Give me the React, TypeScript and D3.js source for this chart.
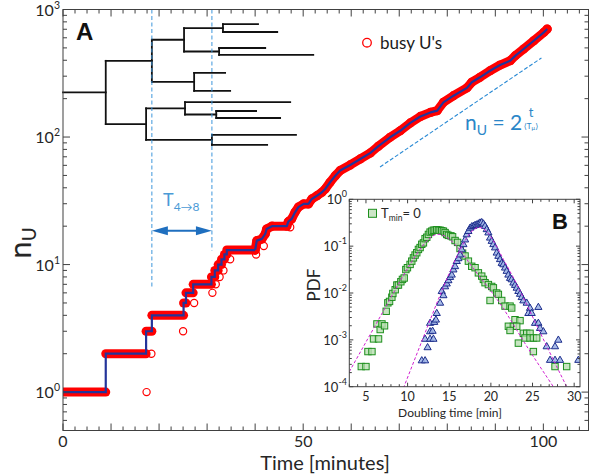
import React from 'react';
import * as d3 from 'd3';

const W = 592;
const H = 475;
const FONT = "Lato, 'Open Sans', 'DejaVu Sans', sans-serif";
const BOLD = "'Liberation Sans', Arial, sans-serif";

// ---------- Panel A: number of busy U's vs time ----------
const stepTimes = [0, 8.9, 17.3, 18.5, 25.1, 25.6, 27.1, 30.9, 31.6, 32.3, 33.0, 33.6, 34.1, 40.0];
const stepCounts = [1, 2, 3, 4, 5, 6, 7, 8, 9, 10, 11, 12, 13, 13];
const growthTimes = [40.0, 40.35, 41.4, 42.1, 42.4, 43.5, 46.6, 46.9, 47.6, 48.3, 49.0, 50.1, 51.1, 51.8, 52.9, 53.9, 54.6, 55.6, 56.7, 57.7, 59.8, 61.9, 64.0, 65.6, 68.1, 70.2, 72.3, 74.4, 76.5, 77.9, 79.2, 81.3, 84.1, 85.1, 86.8, 88.9, 91.0, 93.1, 94.2, 95.9, 98.0, 100.1, 100.8];
const growthCounts = [13, 15.4, 15.9, 17.4, 19.0, 20.0, 20.0, 21.7, 22.8, 25.7, 28.2, 29.9, 29.9, 32.7, 34.7, 36.9, 39.2, 44.2, 49.8, 54.6, 60.4, 67.3, 75.1, 84.4, 99.6, 112, 129, 145, 156, 161, 187, 211, 243, 269, 294, 331, 367, 397, 435, 490, 569, 662, 703];
const outlierTimes = [17.4, 18.4, 25.0, 27.3, 31.1, 31.8, 32.6, 33.4, 34.8, 40.2, 41.8, 47.3];
const outlierCounts = [1, 2, 3, 5, 6, 7, 8, 9, 11, 12, 14, 19.6];

// lineage tree: division times (min) and leaf positions (in n_U units)
type TNode = { t: number; n?: number; children?: TNode[] };
const lineageTree: TNode = {
  t: 8.9, children: [
    { t: 18.5, children: [
      { t: 25.2, children: [
        { t: 33.3, children: [{ t: 40.6, n: 769 }, { t: 44.6, n: 666 }] },
        { t: 32.5, children: [{ t: 42.1, n: 499 }, { t: 52.1, n: 440 }] },
      ] },
      { t: 27.3, children: [{ t: 33.75, n: 318 }, { t: 34.8, n: 230 }] },
    ] },
    { t: 17.3, children: [
      { t: 25.4, children: [
        { t: 47.3, n: 188 },
        { t: 31.9, children: [{ t: 40.2, n: 160 }, { t: 45.2, n: 141 }] },
      ] },
      { t: 31.0, children: [{ t: 48.5, n: 104 }, { t: 42.5, n: 86.7 }] },
    ] },
  ],
};

const t4Time = 18.5;
const t8Time = 31.0;
const t4LineEnd = 6.5;
const t8LineEnd = 12.9;
const arrowLevel = 18.4;
const refTimes = [66.0, 99.6];
const refCounts = [58.3, 417];

const xLabelTicks = [0, 50, 100];
const yDecades = [0, 1, 2, 3];

// ---------- Panel B: doubling-time PDFs ----------
const greenT = [4.44, 5.0, 5.24, 5.72, 5.91, 6.51, 6.32, 6.71, 6.92, 7.23, 7.43, 7.63, 7.83, 8.11, 8.23, 8.51, 8.71, 8.9, 9.19, 9.38, 9.59, 9.79, 9.98, 10.3, 10.5, 10.7, 10.9, 11.1, 11.3, 11.5, 11.7, 11.9, 12.1, 12.3, 12.5, 12.7, 12.9, 13.1, 13.3, 13.5, 13.7, 13.9, 14.1, 14.3, 14.5, 14.7, 14.9, 15.2, 15.4, 15.7, 16.0, 16.3, 16.6, 16.9, 17.3, 17.7, 18.1, 18.5, 18.9, 19.1, 19.3, 19.7, 20.1, 20.3, 19.9, 20.7, 20.9, 21.3, 21.7, 22.3, 22.5, 22.1, 22.7, 22.3, 22.9, 23.5, 23.1, 23.9, 24.3, 24.7, 23.3, 24.1, 24.7, 25.1, 25.5, 25.1, 27.7, 29.1];
const greenLogPdf = [-3.57, -3.57, -3.25, -3.25, -2.98, -2.98, -2.66, -2.78, -2.66, -2.7, -2.39, -2.21, -2.18, -2.09, -2.01, -1.93, -1.83, -1.83, -1.76, -1.71, -1.68, -1.5, -1.46, -1.39, -1.32, -1.25, -1.19, -1.14, -1.07, -1.03, -0.96, -0.93, -0.84, -0.81, -0.75, -0.7, -0.68, -0.66, -0.66, -0.65, -0.66, -0.66, -0.67, -0.68, -0.71, -0.75, -0.77, -0.78, -0.8, -0.88, -0.92, -1.05, -1.15, -1.21, -1.32, -1.43, -1.46, -1.57, -1.64, -1.71, -1.78, -1.82, -1.86, -1.89, -2.16, -2.0, -2.03, -2.16, -2.28, -2.28, -2.32, -2.71, -2.71, -2.8, -2.57, -2.59, -2.71, -2.86, -2.86, -2.86, -3.07, -2.96, -2.96, -2.96, -2.96, -3.25, -3.57, -3.57];
const blueT = [11.7, 12.1, 12.4, 12.1, 12.7, 13.1, 12.7, 13.0, 12.7, 13.2, 13.4, 13.5, 13.9, 14.1, 14.3, 14.5, 14.7, 14.9, 15.1, 15.3, 15.5, 15.7, 15.9, 16.1, 16.3, 16.5, 16.7, 16.9, 17.1, 17.3, 17.5, 17.7, 17.9, 18.1, 18.3, 18.5, 18.7, 18.9, 19.1, 19.3, 19.5, 19.7, 19.9, 20.1, 20.3, 20.5, 20.7, 20.9, 21.1, 21.3, 21.5, 21.7, 21.9, 22.1, 22.3, 22.5, 22.7, 22.9, 23.1, 23.3, 23.5, 23.7, 23.9, 24.3, 24.7, 24.5, 24.9, 25.7, 25.3, 25.7, 25.9, 26.3, 28.1, 26.7, 27.7, 27.1, 27.7, 28.3, 30.5];
const blueLogPdf = [-3.44, -3.44, -3.16, -2.98, -2.98, -2.98, -2.82, -2.81, -2.64, -2.62, -2.57, -2.43, -2.21, -1.96, -2.05, -1.86, -1.8, -1.73, -1.66, -1.61, -1.5, -1.43, -1.32, -1.26, -1.18, -1.07, -0.96, -0.86, -0.75, -0.68, -0.61, -0.58, -0.57, -0.55, -0.54, -0.52, -0.5, -0.49, -0.52, -0.57, -0.64, -0.71, -0.82, -0.89, -0.96, -1.03, -1.14, -1.21, -1.28, -1.36, -1.39, -1.46, -1.53, -1.61, -1.68, -1.71, -1.78, -1.83, -1.89, -1.96, -2.02, -2.09, -2.16, -2.21, -2.32, -2.43, -2.43, -2.3, -2.64, -2.64, -2.75, -2.82, -3.0, -3.14, -3.14, -3.43, -3.43, -3.43, -3.43];
const greenFitT = [3.0, 6, 9, 10.5, 12, 13.5, 15, 16.5, 18, 21, 24, 27.5, 29];
const greenFitLog = [-3.68, -2.73, -1.78, -1.33, -0.95, -0.75, -0.85, -1.13, -1.5, -2.2, -3.05, -4.0, -4.4];
const blueFitT = [9.5, 11, 12.5, 14, 15.5, 17, 18.5, 20, 21.5, 23.3, 26.2, 29.1, 30.5];
const blueFitLog = [-4.03, -3.35, -2.67, -2.0, -1.38, -0.85, -0.6, -0.8, -1.28, -1.88, -2.95, -4.0, -4.5];
const insetXLabels = [5, 10, 15, 20, 25, 30];
const insetDecades = [-4, -3, -2, -1, 0];

const AX = '#404040';
const TXT = '#262626';
const RED = '#ff0000';
const NAVY = '#24349a';
const LBLUE = '#3d96dc';
const ABLUE = '#1f6fbf';

export default function App() {
  const x = d3.scaleLinear().domain([0, 109.4]).range([63, 588.5]);
  const y = d3.scaleLog().domain([0.5, 1000]).range([430.5, 9.5]);
  const [x0, x1] = x.range();
  const [yb, yt] = y.range();

  const ix = d3.scaleLinear().domain([3, 30.7]).range([349.3, 580]);
  const iy = d3.scaleLog().domain([1e-4, 1]).range([386.7, 199.3]);
  const [ix0, ix1] = ix.range();
  const [iyb, iyt] = iy.range();

  // tree segments
  const segs: { x1: number; x2: number; y1: number; y2: number }[] = [];
  const layout = (node: TNode, parentT: number): number => {
    if (!node.children) {
      const py = y(node.n as number);
      segs.push({ x1: x(parentT), x2: x(node.t), y1: py, y2: py });
      return py;
    }
    const ys = node.children.map((c) => layout(c, node.t));
    const py = d3.mean(ys) as number;
    segs.push({ x1: x(node.t), x2: x(node.t), y1: d3.min(ys) as number, y2: d3.max(ys) as number });
    segs.push({ x1: x(parentT), x2: x(node.t), y1: py, y2: py });
    return py;
  };
  layout(lineageTree, 0);

  const stepPts = stepTimes.map((t, i) => [t, stepCounts[i]] as [number, number]);
  const growPts = growthTimes.map((t, i) => [t, growthCounts[i]] as [number, number]);
  const stepLine = d3.line<[number, number]>().x((d) => x(d[0])).y((d) => y(d[1])).curve(d3.curveStepAfter);
  const lin = d3.line<[number, number]>().x((d) => x(d[0])).y((d) => y(d[1]));

  // ticks
  const xTicks = d3.range(0, 109.4, 2.5);
  const yTicks: { v: number; major: boolean }[] = [];
  for (let e = -1; e <= 3; e++) for (let k = 1; k <= 9; k++) {
    const v = k * Math.pow(10, e);
    if (v >= 0.5 && v <= 1000) yTicks.push({ v, major: k === 1 });
  }
  const ixTicks = d3.range(3, 31, 1);
  const iyTicks: { v: number; major: boolean }[] = [];
  for (let e = -4; e <= 0; e++) for (let k = 1; k <= 9; k++) {
    const v = k * Math.pow(10, e);
    if (v >= 1e-4 && v <= 1) iyTicks.push({ v, major: k === 1 });
  }

  const fitLine = d3.line<[number, number]>().x((d) => ix(d[0])).y((d) => iy(Math.pow(10, d[1]))).curve(d3.curveNatural);
  const greenFit = greenFitT.map((t, i) => [t, greenFitLog[i]] as [number, number]);
  const blueFit = blueFitT.map((t, i) => [t, blueFitLog[i]] as [number, number]);

  const ah = 16, aw = 4.5;
  const ay = y(arrowLevel);
  const ax1 = x(t4Time), ax2 = x(t8Time);

  const tri = (cx: number, cy: number) => {
    const s = 7.2;
    const h = s * 0.866;
    return `M${cx},${cy - h * 0.62}L${cx + s / 2},${cy + h * 0.38}L${cx - s / 2},${cy + h * 0.38}Z`;
  };

  return (
    <svg width={W} height={H} style={{ position: 'absolute', left: 0, top: 0, background: '#fff' }} fontFamily={FONT}>
      <rect x={0} y={0} width={W} height={H} fill="#fff" />
      <defs>
        <clipPath id="mainclip"><rect x={x0} y={yt} width={x1 - x0} height={yb - yt} /></clipPath>
        <clipPath id="insetclip"><rect x={ix0} y={iyt} width={ix1 - ix0} height={iyb - iyt} /></clipPath>
      </defs>

      {/* tree */}
      <g stroke="#111" strokeWidth={1.8} strokeLinecap="square">
        {segs.map((s, i) => <line key={i} x1={s.x1} x2={s.x2} y1={s.y1} y2={s.y2} />)}
      </g>

      {/* T4->8 annotation */}
      <g stroke={LBLUE} strokeWidth={1} strokeDasharray="4,2.5">
        <line x1={x(t4Time)} x2={x(t4Time)} y1={yt} y2={y(t4LineEnd)} />
        <line x1={x(t8Time)} x2={x(t8Time)} y1={yt} y2={y(t8LineEnd)} />
      </g>
      <line x1={ax1 + ah - 2} x2={ax2 - ah + 2} y1={ay} y2={ay} stroke={ABLUE} strokeWidth={2} />
      <path d={`M${ax1},${ay}L${ax1 + ah},${ay - aw}L${ax1 + ah},${ay + aw}Z`} fill={ABLUE} />
      <path d={`M${ax2},${ay}L${ax2 - ah},${ay - aw}L${ax2 - ah},${ay + aw}Z`} fill={ABLUE} />
      <text x={163} y={206} fill="#4a9ad6" fontSize={18}>T<tspan fontSize={12} dy={5}>4→8</tspan></text>

      {/* red band of markers */}
      <g clipPath="url(#mainclip)">
        <g stroke={RED} strokeWidth={9} strokeLinecap="round" fill="none">
          {stepPts.slice(0, -1).map((p, i) => (
            <line key={i} x1={x(p[0])} x2={x(stepPts[i + 1][0])} y1={y(p[1])} y2={y(p[1])} />
          ))}
          <path d={lin(growPts) as string} strokeLinejoin="round" />
        </g>
        <g stroke={RED} strokeWidth={1.2} fill="none">
          {growPts.map((p, i) => <circle key={'g' + i} cx={x(p[0])} cy={y(p[1])} r={4} />)}
          {outlierTimes.map((t, i) => <circle key={'o' + i} cx={x(t)} cy={y(outlierCounts[i])} r={3.6} />)}
        </g>
        <path d={stepLine(stepPts) as string} stroke={NAVY} strokeWidth={2.2} fill="none" />
        <path d={lin(growPts) as string} stroke={NAVY} strokeWidth={2.2} fill="none" strokeLinejoin="round" />
      </g>

      {/* reference exponential */}
      <line x1={x(refTimes[0])} y1={y(refCounts[0])} x2={x(refTimes[1])} y2={y(refCounts[1])}
        stroke="#2a8ad4" strokeWidth={1.1} strokeDasharray="4,2" />
      <text x={465} y={130} fill="#2a86c8" fontSize={21}>n<tspan fontSize={14} dy={5}>U</tspan><tspan dy={-5}> = 2</tspan></text>
      <text x={531} y={117} fill="#2a86c8" fontSize={13} textAnchor="middle">t</text>
      <text x={531} y={128.5} fill="#2a86c8" fontSize={8} textAnchor="middle">⟨T<tspan fontSize={6} dy={1.5}>μ</tspan><tspan dy={-1.5}>⟩</tspan></text>

      {/* legend A */}
      <circle cx={367} cy={42.7} r={4.3} stroke={RED} strokeWidth={1.3} fill="none" />
      <text x={380} y={48.5} fontSize={17} fill="#1a1a1a">busy U's</text>
      <text x={76} y={39.5} fontSize={24} fontWeight="bold" fontFamily={BOLD} fill="#111">A</text>

      {/* main axes */}
      <rect x={x0} y={yt} width={x1 - x0} height={yb - yt} fill="none" stroke={AX} strokeWidth={1} />
      <g stroke={AX} strokeWidth={1}>
        {xTicks.map((t) => {
          const L = Math.abs(t % 10) < 1e-9 ? 7 : 4;
          return (
            <g key={'xt' + t}>
              <line x1={x(t)} x2={x(t)} y1={yb} y2={yb - L} />
              <line x1={x(t)} x2={x(t)} y1={yt} y2={yt + L} />
            </g>
          );
        })}
        {yTicks.map((d) => {
          const L = d.major ? 7 : 4;
          return (
            <g key={'yt' + d.v}>
              <line x1={x0} x2={x0 + L} y1={y(d.v)} y2={y(d.v)} />
              <line x1={x1} x2={x1 - L} y1={y(d.v)} y2={y(d.v)} />
            </g>
          );
        })}
      </g>
      {xLabelTicks.map((t) => (
        <text key={'xl' + t} x={x(t)} y={447} fontSize={16} fill={TXT} textAnchor="middle">{t}</text>
      ))}
      {yDecades.map((e) => (
        <text key={'yl' + e} x={60} y={y(Math.pow(10, e)) + 6} fontSize={16} fill={TXT} textAnchor="end">
          10<tspan fontSize={10.5} dy={-7}>{e}</tspan>
        </text>
      ))}
      <text x={325} y={470} fontSize={20} fill={TXT} textAnchor="middle">Time [minutes]</text>
      <text transform="translate(31,243) rotate(-90)" fontSize={31} fill={TXT} textAnchor="middle">
        n<tspan fontSize={19} dy={5}>U</tspan>
      </text>

      {/* inset B */}
      <rect x={ix0} y={iyt} width={ix1 - ix0} height={iyb - iyt} fill="#fff" />
      <g clipPath="url(#insetclip)">
        <g fill="#b9dfb2" fillOpacity={0.8} stroke="#1d8f1d" strokeWidth={1}>
          {greenT.map((t, i) => (
            <rect key={'gs' + i} x={ix(t) - 3.2} y={iy(Math.pow(10, greenLogPdf[i])) - 3.2} width={6.4} height={6.4} />
          ))}
        </g>
        <g fill="#9fb5e6" fillOpacity={0.9} stroke="#1c2d8c" strokeWidth={1}>
          {blueT.map((t, i) => (
            <path key={'bt' + i} d={tri(ix(t), iy(Math.pow(10, blueLogPdf[i])))} />
          ))}
        </g>
        <g stroke="#d020d0" strokeWidth={1} strokeDasharray="3,2" fill="none">
          <path d={fitLine(greenFit) as string} />
          <path d={fitLine(blueFit) as string} />
        </g>
      </g>
      <rect x={ix0} y={iyt} width={ix1 - ix0} height={iyb - iyt} fill="none" stroke={AX} strokeWidth={1} />
      <g stroke={AX} strokeWidth={1}>
        {ixTicks.map((t) => {
          const L = t % 5 === 0 ? 4 : 2.5;
          return (
            <g key={'ixt' + t}>
              <line x1={ix(t)} x2={ix(t)} y1={iyb} y2={iyb - L} />
              <line x1={ix(t)} x2={ix(t)} y1={iyt} y2={iyt + L} />
            </g>
          );
        })}
        {iyTicks.map((d) => {
          const L = d.major ? 4 : 2.5;
          return (
            <g key={'iyt' + d.v}>
              <line x1={ix0} x2={ix0 + L} y1={iy(d.v)} y2={iy(d.v)} />
              <line x1={ix1} x2={ix1 - L} y1={iy(d.v)} y2={iy(d.v)} />
            </g>
          );
        })}
      </g>
      {insetXLabels.map((t) => (
        <text key={'ixl' + t} x={ix(t)} y={400.5} fontSize={12.5} fill={TXT} textAnchor="middle">{t}</text>
      ))}
      {insetDecades.map((e) => (
        <text key={'iyl' + e} x={347} y={iy(Math.pow(10, e)) + 5} fontSize={13} fill={TXT} textAnchor="end">
          10<tspan fontSize={9} dy={-7}>{e === 0 ? '0' : '-' + Math.abs(e)}</tspan>
        </text>
      ))}
      <text x={450} y={416.5} fontSize={12} fill={TXT} textAnchor="middle">Doubling time [min]</text>
      <text transform="translate(320,285) rotate(-90)" fontSize={17} fill={TXT} textAnchor="middle">PDF</text>
      <rect x={368.5} y={209.3} width={8} height={8} fill="#cde6c8" stroke="#1d8f1d" strokeWidth={1} />
      <text x={381} y={217.5} fontSize={13} fill={TXT}>T<tspan fontSize={8.5} dy={3}>min</tspan><tspan dy={-3}>= 0</tspan></text>
      <text x={552} y={228.5} fontSize={22} fontWeight="bold" fontFamily={BOLD} fill="#111">B</text>
    </svg>
  );
}
